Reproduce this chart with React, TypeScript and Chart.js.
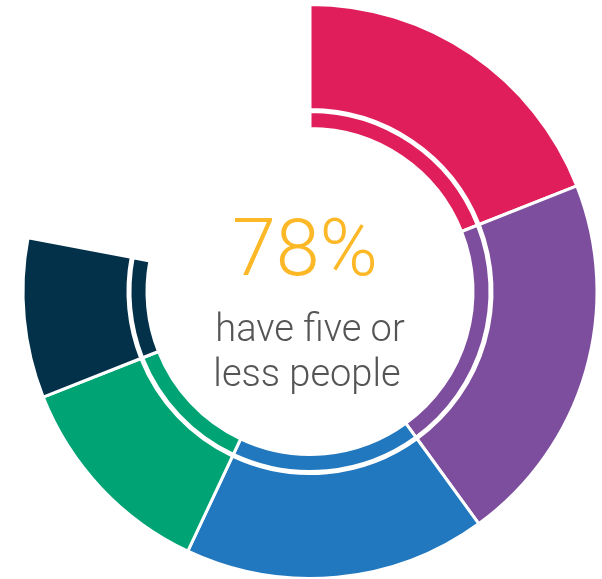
import React, { useEffect, useRef } from "react";
import { Chart, registerables } from "chart.js";

Chart.register(...registerables);

const categories = ["Group A", "Group B", "Group C", "Group D", "Group E", "Remainder"];
const values = [19, 21, 17, 12, 9, 22];
const colors = ["#DF1E5B", "#7E4E9E", "#2278BF", "#00A474", "#03314A", "rgba(0,0,0,0)"];
const headline = "78%";
const captionLines = ["have five or", "less people"];

const centerText = {
  id: "centerText",
  afterDraw(chart: any) {
    const { ctx } = chart;
    const meta = chart.getDatasetMeta(0);
    const arc = meta.data[0];
    if (!arc) return;
    const cx = arc.x;
    const cy = arc.y;
    ctx.save();
    ctx.textAlign = "center";
    ctx.textBaseline = "alphabetic";
    ctx.fillStyle = "#FDB827";
    ctx.font = "300 79px Roboto";
    ctx.fillText(headline, cx - 5, cy - 17);
    ctx.fillStyle = "#555555";
    ctx.font = "300 38px Roboto";
    ctx.fillText(captionLines[0], cx, cy + 49);
    ctx.fillText(captionLines[1], cx - 3, cy + 94);
    ctx.restore();
  },
};

export default function App() {
  const ref = useRef<HTMLCanvasElement | null>(null);
  useEffect(() => {
    if (!ref.current) return;
    const segBg = colors;
    const segBorder = values.map((_, i) => (i === values.length - 1 ? "rgba(0,0,0,0)" : "#ffffff"));
    const segBorderW = values.map((_, i) => (i === values.length - 1 ? 0 : 3));
    const chart = new Chart(ref.current, {
      type: "doughnut",
      data: {
        labels: categories,
        datasets: [
          { data: values, backgroundColor: segBg, borderColor: segBorder, borderWidth: segBorderW, weight: 105 },
          { data: values, backgroundColor: values.map(() => "rgba(0,0,0,0)"), borderWidth: 0, weight: 2 },
          { data: values, backgroundColor: segBg, borderColor: segBorder, borderWidth: segBorderW, weight: 17 },
        ],
      },
      options: {
        animation: false,
        responsive: false,
        radius: 287,
        cutout: "56.8%",
        layout: { padding: { left: 18, top: 4 } },
        plugins: { legend: { display: false }, tooltip: { enabled: false } },
      },
      plugins: [centerText],
    });
    return () => chart.destroy();
  }, []);
  return (
    <div style={{ position: "absolute", left: 0, top: 0, width: 602, height: 579, background: "#fff" }}>
      <canvas ref={ref} width={602} height={579} style={{ display: "block", width: 602, height: 579 }} />
    </div>
  );
}
